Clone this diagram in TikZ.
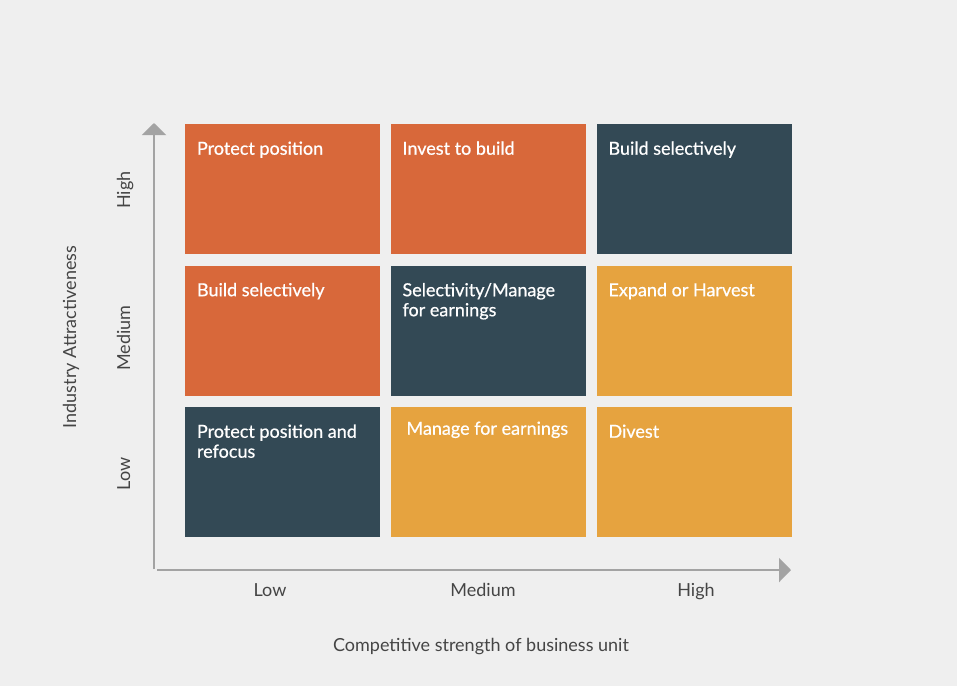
\documentclass[tikz,border=0pt]{standalone}
\usepackage{fontspec}
\setmainfont{Lato}
\usetikzlibrary{arrows.meta}

\definecolor{bgc}{HTML}{EFEFEF}
\definecolor{orangec}{HTML}{D8683A}
\definecolor{darkc}{HTML}{334955}
\definecolor{yellowc}{HTML}{E6A33F}
\definecolor{axisc}{HTML}{A3A3A3}
\definecolor{labelc}{HTML}{454545}

\tikzset{
    cell/.style={draw=none, minimum width=195*0.025cm, minimum height=130*0.025cm, inner sep=0pt},
    celltext/.style={anchor=base west, inner sep=0pt, text=white, font=\fontsize{12.8}{14.2}\selectfont\addfontfeatures{FakeBold=0.6}, align=left},
    axislabel/.style={anchor=base, text=labelc, inner sep=0pt, font=\fontsize{12.8}{14.2}\selectfont},
    axisline/.style={draw=axisc, line width=1.6pt, -{Triangle[length=12*0.025cm, width=24*0.025cm]}}
}

\begin{document}
\begin{tikzpicture}[x=0.025cm, y=-0.025cm]
    \fill[bgc] (0,0) rectangle (957,686);
    \useasboundingbox (0,0) rectangle (957,686);

    % --- cells ---
    \node[cell, fill=orangec] (hl) at (282.5,189) {};
    \node[cell, fill=orangec] (hm) at (488,189) {};
    \node[cell, fill=darkc] (hh) at (694,189) {};
    \node[cell, fill=orangec] (ml) at (282.5,330.5) {};
    \node[cell, fill=darkc] (mm) at (488,330.5) {};
    \node[cell, fill=yellowc] (mh) at (694,330.5) {};
    \node[cell, fill=darkc] (ll) at (282.5,472) {};
    \node[cell, fill=yellowc] (lm) at (488,472) {};
    \node[cell, fill=yellowc] (lh) at (694,472) {};

    % --- cell texts (two-line ones sit on their last line) ---
    \node[celltext] (thl) at ([xshift=12*0.025cm, yshift=-31*0.025cm]hl.north west) {Protect position};
    \node[celltext] (thm) at ([xshift=12*0.025cm, yshift=-31*0.025cm]hm.north west) {Invest to build};
    \node[celltext] (thh) at ([xshift=12*0.025cm, yshift=-31*0.025cm]hh.north west) {Build selectively};
    \node[celltext] (tml) at ([xshift=12*0.025cm, yshift=-31*0.025cm]ml.north west) {Build selectively};
    \node[celltext] (tmm) at ([xshift=12*0.025cm, yshift=-51*0.025cm]mm.north west) {Selectivity/Manage\\for earnings};
    \node[celltext] (tmh) at ([xshift=12*0.025cm, yshift=-31*0.025cm]mh.north west) {Expand or Harvest};
    \node[celltext] (tll) at ([xshift=12*0.025cm, yshift=-51*0.025cm]ll.north west) {Protect position and\\refocus};
    \node[celltext] (tlm) at ([xshift=16*0.025cm, yshift=-28*0.025cm]lm.north west) {Manage for earnings};
    \node[celltext] (tlh) at ([xshift=12*0.025cm, yshift=-31*0.025cm]lh.north west) {Divest};

    % --- axes ---
    \coordinate (yfoot) at (154,569);
    \coordinate (ytip) at (154,123);
    \coordinate (xfoot) at (157,570);
    \coordinate (xtip) at (791,570);
    \draw[axisline] (yfoot) -- (ytip);
    \draw[axisline] (xfoot) -- (xtip);

    % --- axis labels ---
    \node[axislabel] (xlow) at (270,596.5) {Low};
    \node[axislabel] (xmed) at (483,596.5) {Medium};
    \node[axislabel] (xhigh) at (696,596.5) {High};
    \node[axislabel] (xtitle) at (481,651.5) {Competitive strength of business unit};
    \node[axislabel, rotate=90] (yhigh) at (130,190) {High};
    \node[axislabel, rotate=90] (ymed) at (130,338) {Medium};
    \node[axislabel, rotate=90] (ylow) at (130,474) {Low};
    \node[axislabel, rotate=90] (ytitle) at (76,337) {Industry Attractiveness};
\end{tikzpicture}
\end{document}
